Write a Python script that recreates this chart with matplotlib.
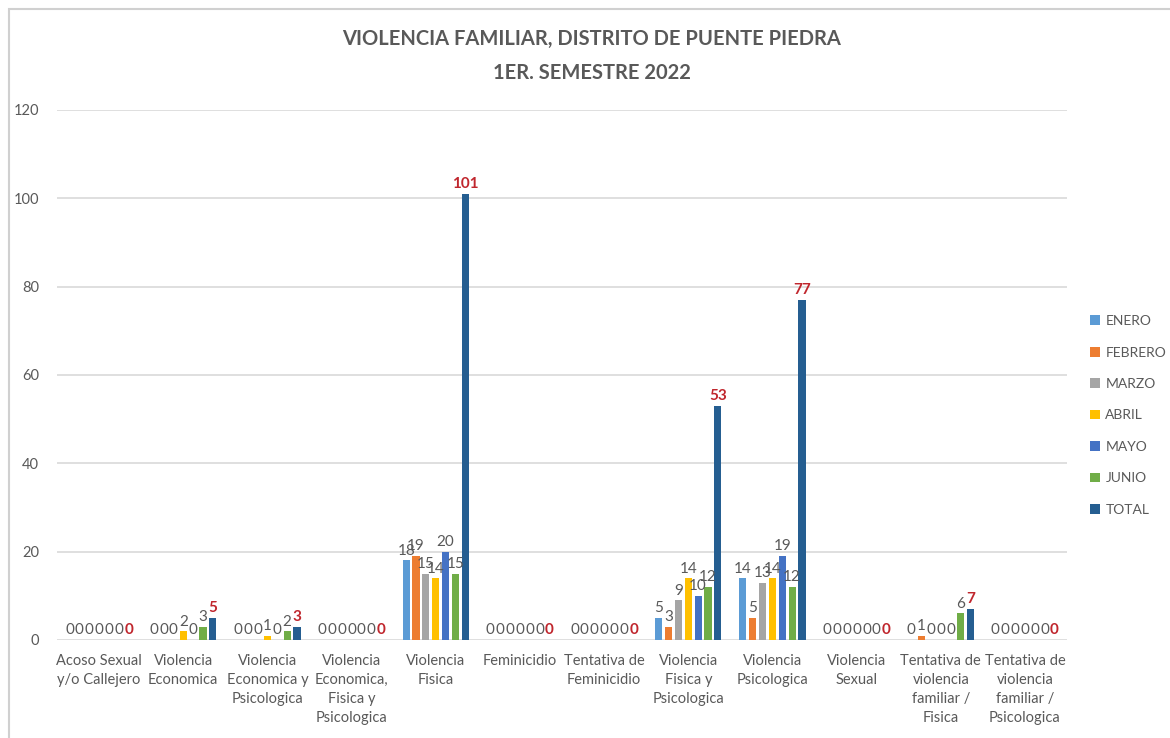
import matplotlib
matplotlib.use("Agg")
import matplotlib.pyplot as plt
import numpy as np
from matplotlib.patches import Rectangle

plt.rcParams['font.family'] = ['Lato', 'DejaVu Sans']

categories = ["Acoso Sexual\ny/o Callejero", "Violencia\nEconomica",
              "Violencia\nEconomica y\nPsicologica",
              "Violencia\nEconomica,\nFisica y\nPsicologica",
              "Violencia\nFisica", "Feminicidio", "Tentativa de\nFeminicidio",
              "Violencia\nFisica y\nPsicologica", "Violencia\nPsicologica",
              "Violencia\nSexual",
              "Tentativa de\nviolencia\nfamiliar /\nFisica",
              "Tentativa de\nviolencia\nfamiliar /\nPsicologica"]

enero   = [0, 0, 0, 0, 18, 0, 0, 5, 14, 0, 0, 0]
febrero = [0, 0, 0, 0, 19, 0, 0, 3, 5, 0, 1, 0]
marzo   = [0, 0, 0, 0, 15, 0, 0, 9, 13, 0, 0, 0]
abril   = [0, 2, 1, 0, 14, 0, 0, 14, 14, 0, 0, 0]
mayo    = [0, 0, 0, 0, 20, 0, 0, 10, 19, 0, 0, 0]
junio   = [0, 3, 2, 0, 15, 0, 0, 12, 12, 0, 6, 0]
total   = [0, 5, 3, 0, 101, 0, 0, 53, 77, 0, 7, 0]

series = [("ENERO", enero), ("FEBRERO", febrero), ("MARZO", marzo),
          ("ABRIL", abril), ("MAYO", mayo), ("JUNIO", junio), ("TOTAL", total)]
colors = ["#5B9BD5", "#ED7D31", "#A5A5A5", "#FFC000", "#4472C4", "#70AD47", "#255E91"]

grey = "#595959"
red = "#C0262D"

fig = plt.figure(figsize=(11.7, 7.38), dpi=100)
ax = fig.add_axes([0.0487, 0.1328, 0.8633, 0.7182])

x = np.arange(len(categories))
step = 0.117
width = 0.085
for i, (name, vals) in enumerate(series):
    pos = x + (i - 3) * step
    ax.bar(pos, vals, width, color=colors[i], label=name, zorder=3)
    is_total = name == "TOTAL"
    # etiquetas de datos encima de cada barra (se enciman como en el original)
    for p, v in zip(pos, vals):
        ax.text(p, v + 0.6, str(v), ha="center", va="bottom",
                fontsize=11, color=red if is_total else grey,
                fontweight="bold" if is_total else "normal", zorder=4)

ax.set_xlim(-0.5, len(categories) - 0.5)
ax.set_ylim(0, 120)
ax.set_yticks(range(0, 121, 20))
ax.yaxis.grid(True, color="#D9D9D9", linewidth=1.2, zorder=0)
ax.set_axisbelow(True)
for s in ax.spines.values():
    s.set_visible(False)
ax.tick_params(axis="both", length=0, colors=grey, labelsize=10.5)
ax.tick_params(axis="y", pad=13)
ax.set_xticks(x)
ax.set_xticklabels(categories, linespacing=1.45)
ax.tick_params(axis="x", pad=10)

fig.text(0.506, 0.924, "VIOLENCIA FAMILIAR, DISTRITO DE PUENTE PIEDRA\n1ER. SEMESTRE 2022",
         ha="center", va="center", fontsize=14.5, fontweight="bold", color=grey,
         linespacing=1.85)

fig.legend(loc="center left", bbox_to_anchor=(0.921, 0.437), frameon=False,
           fontsize=10, labelcolor=grey, handlelength=0.7, handleheight=0.7,
           handletextpad=0.4, labelspacing=1.4)

fig.patches.append(Rectangle((0.008, -0.1), 1.1, 1.088, transform=fig.transFigure,
                             fill=False, edgecolor="#D0D0D0", linewidth=1.5))

fig.savefig("out.png", dpi=100)
